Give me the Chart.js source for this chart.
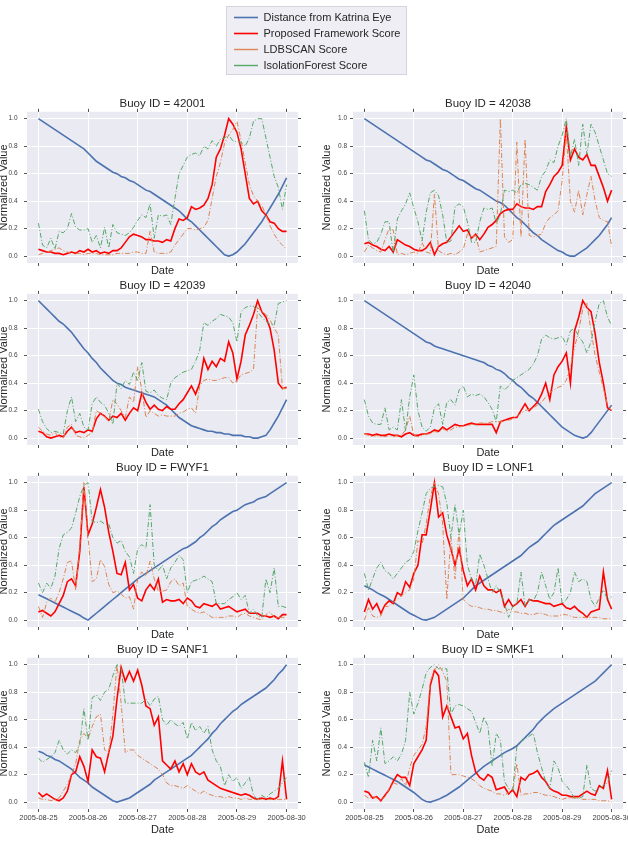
<!DOCTYPE html>
<html>
<head>
<meta charset="utf-8">
<script src="https://cdn.jsdelivr.net/npm/chart.js@4.4.1/dist/chart.umd.min.js"></script>
<style>
  html, body { margin: 0; padding: 0; background: #fff; }
  body { width: 628px; height: 846px; position: relative; overflow: hidden; }
  canvas { position: absolute; }
  #legend-box {
    position: absolute; left: 226px; top: 6px; width: 179px; height: 67px;
    background: #eeeef4; border: 1px solid #d4d4dc; overflow: hidden;
  }
  #legend-box canvas { left: 0; top: 0; }
</style>
</head>
<body>
<div id="legend-box"><canvas id="legend" width="179" height="160"></canvas></div>
<script>
// Hurricane Katrina buoy panels: normalized distance to the eye vs. three
// anomaly scores, one panel per buoy, samples every 2 hours from 08-25 to 08-30.

var DAY_STEP = 2 / 24;
var dateLabels = ["2005-08-25", "2005-08-26", "2005-08-27", "2005-08-28", "2005-08-29", "2005-08-30"];
var dayTicks = [0, 1, 2, 3, 4, 5];
var valueTicks = [0, 0.2, 0.4, 0.6, 0.8, 1.0];
var buoyIds = ["42001", "42038", "42039", "42040", "FWYF1", "LONF1", "SANF1", "SMKF1"];
var seriesNames = ["Distance from Katrina Eye", "Proposed Framework Score", "LDBSCAN Score", "IsolationForest Score"];

// --- 42001
var dist42001 = [1.00,0.98,0.96,0.94,0.92,0.90,0.88,0.86,0.84,0.82,0.80,0.78,0.75,0.72,0.69,0.67,0.65,0.63,0.61,0.60,0.58,0.57,0.55,0.54,0.52,0.50,0.48,0.47,0.45,0.43,0.41,0.39,0.37,0.35,0.33,0.30,0.27,0.25,0.22,0.19,0.16,0.13,0.10,0.07,0.04,0.01,0.00,0.01,0.03,0.06,0.09,0.13,0.17,0.21,0.25,0.30,0.35,0.40,0.45,0.51,0.57];
var prop42001 = [0.05,0.04,0.03,0.03,0.02,0.02,0.01,0.02,0.03,0.02,0.04,0.03,0.05,0.03,0.04,0.02,0.03,0.02,0.04,0.04,0.06,0.10,0.14,0.16,0.15,0.14,0.12,0.12,0.11,0.11,0.10,0.12,0.11,0.20,0.27,0.26,0.28,0.36,0.34,0.35,0.37,0.42,0.52,0.72,0.78,0.88,1.00,0.96,0.90,0.78,0.60,0.42,0.38,0.40,0.33,0.30,0.25,0.24,0.20,0.18,0.18];
var ldb42001 = [0.01,0.02,0.03,0.04,0.05,0.06,0.04,0.03,0.02,0.02,0.02,0.01,0.02,0.02,0.02,0.01,0.01,0.01,0.01,0.02,0.02,0.02,0.02,0.03,0.03,0.02,0.02,0.18,0.03,0.02,0.02,0.02,0.03,0.08,0.12,0.16,0.20,0.20,0.19,0.20,0.21,0.26,0.42,0.58,0.68,0.82,0.88,0.92,0.98,0.84,0.68,0.52,0.44,0.40,0.37,0.30,0.22,0.16,0.11,0.08,0.05];
var iso42001 = [0.24,0.08,0.06,0.13,0.05,0.18,0.17,0.20,0.31,0.21,0.19,0.19,0.20,0.10,0.15,0.06,0.21,0.06,0.23,0.17,0.16,0.15,0.17,0.21,0.26,0.30,0.28,0.38,0.13,0.30,0.29,0.30,0.23,0.42,0.60,0.66,0.72,0.74,0.75,0.73,0.80,0.78,0.84,0.80,0.85,0.86,0.88,0.84,0.83,0.83,0.80,0.86,0.98,1.00,1.00,0.86,0.72,0.58,0.50,0.34,0.52];

// --- 42038
var dist42038 = [1.00,0.98,0.96,0.94,0.92,0.90,0.88,0.86,0.84,0.82,0.80,0.78,0.76,0.74,0.72,0.70,0.69,0.67,0.65,0.63,0.62,0.60,0.58,0.56,0.55,0.53,0.51,0.49,0.48,0.46,0.44,0.42,0.40,0.39,0.37,0.34,0.31,0.28,0.26,0.23,0.20,0.17,0.15,0.12,0.10,0.08,0.06,0.04,0.03,0.01,0.00,0.00,0.02,0.04,0.06,0.09,0.12,0.15,0.19,0.23,0.28];
var prop42038 = [0.09,0.10,0.08,0.07,0.05,0.04,0.07,0.03,0.12,0.10,0.08,0.07,0.05,0.04,0.04,0.06,0.10,0.01,0.07,0.09,0.10,0.14,0.18,0.22,0.18,0.19,0.13,0.16,0.12,0.16,0.21,0.23,0.26,0.31,0.33,0.34,0.34,0.38,0.36,0.35,0.35,0.34,0.36,0.36,0.47,0.52,0.58,0.61,0.66,0.94,0.70,0.78,0.72,0.70,0.74,0.66,0.66,0.58,0.50,0.40,0.48];
var ldb42038 = [0.03,0.08,0.06,0.04,0.03,0.12,0.20,0.19,0.01,0.02,0.01,0.02,0.03,0.02,0.10,0.03,0.02,0.45,0.04,0.02,0.01,0.02,0.01,0.03,0.05,0.16,0.14,0.15,0.03,0.04,0.05,0.06,0.07,1.00,0.14,0.10,0.12,0.83,0.14,0.85,0.15,0.14,0.15,0.16,0.24,0.28,0.30,0.33,0.55,0.90,0.40,0.32,0.48,0.30,0.45,0.58,0.40,0.28,0.26,0.25,0.07];
var iso42038 = [0.33,0.12,0.09,0.10,0.16,0.25,0.25,0.02,0.27,0.33,0.38,0.46,0.35,0.25,0.11,0.32,0.46,0.48,0.44,0.30,0.10,0.11,0.36,0.38,0.36,0.25,0.10,0.10,0.25,0.35,0.34,0.35,0.24,0.30,0.48,0.47,0.48,0.46,0.52,0.53,0.52,0.50,0.48,0.58,0.62,0.70,0.68,0.80,0.88,1.00,0.72,0.85,0.66,0.96,0.74,0.96,0.90,0.80,0.70,0.60,0.58];

// --- 42039
var dist42039 = [1.00,0.97,0.94,0.91,0.88,0.85,0.83,0.80,0.77,0.73,0.69,0.65,0.62,0.58,0.55,0.51,0.48,0.45,0.42,0.40,0.39,0.37,0.36,0.35,0.34,0.33,0.32,0.31,0.30,0.28,0.26,0.24,0.21,0.18,0.15,0.13,0.11,0.09,0.08,0.07,0.06,0.05,0.05,0.04,0.04,0.03,0.03,0.02,0.02,0.02,0.01,0.01,0.00,0.00,0.01,0.02,0.06,0.11,0.16,0.22,0.28];
var prop42039 = [0.05,0.04,0.01,0.00,0.01,0.02,0.01,0.05,0.08,0.04,0.05,0.04,0.06,0.05,0.14,0.18,0.16,0.13,0.16,0.15,0.18,0.13,0.18,0.22,0.20,0.33,0.26,0.21,0.24,0.21,0.20,0.23,0.21,0.21,0.25,0.28,0.33,0.38,0.32,0.40,0.58,0.50,0.56,0.52,0.58,0.56,0.70,0.62,0.43,0.56,0.75,0.82,0.90,1.00,0.92,0.88,0.80,0.64,0.40,0.36,0.37];
var ldb42039 = [0.08,0.05,0.03,0.02,0.04,0.01,0.00,0.08,0.10,0.02,0.01,0.00,0.02,0.04,0.20,0.18,0.16,0.12,0.28,0.25,0.20,0.15,0.30,0.26,0.52,0.35,0.15,0.20,0.18,0.16,0.17,0.16,0.16,0.16,0.18,0.19,0.21,0.22,0.18,0.38,0.42,0.43,0.42,0.42,0.43,0.44,0.44,0.40,0.42,0.46,0.47,0.48,0.50,0.95,0.92,0.90,0.86,0.80,0.75,0.36,0.36];
var iso42039 = [0.21,0.12,0.07,0.04,0.05,0.04,0.03,0.20,0.30,0.12,0.18,0.08,0.06,0.25,0.30,0.26,0.24,0.18,0.10,0.40,0.36,0.42,0.39,0.48,0.42,0.55,0.34,0.33,0.35,0.31,0.29,0.28,0.40,0.44,0.46,0.48,0.49,0.50,0.56,0.64,0.84,0.82,0.85,0.87,0.90,0.89,0.88,0.84,0.70,0.92,0.95,0.96,0.96,0.92,0.88,0.85,0.83,0.82,0.98,0.99,1.00];

// --- 42040
var dist42040 = [1.00,0.98,0.96,0.94,0.92,0.90,0.88,0.86,0.84,0.82,0.80,0.78,0.76,0.74,0.72,0.70,0.69,0.67,0.66,0.65,0.64,0.63,0.62,0.61,0.60,0.59,0.58,0.57,0.56,0.55,0.53,0.52,0.50,0.49,0.47,0.44,0.42,0.39,0.37,0.34,0.31,0.29,0.26,0.23,0.20,0.17,0.14,0.11,0.08,0.06,0.04,0.02,0.01,0.00,0.01,0.04,0.08,0.12,0.16,0.20,0.24];
var prop42040 = [0.03,0.03,0.02,0.03,0.02,0.02,0.03,0.02,0.02,0.01,0.03,0.04,0.02,0.02,0.03,0.03,0.04,0.06,0.05,0.08,0.06,0.08,0.10,0.09,0.09,0.10,0.11,0.10,0.10,0.10,0.10,0.10,0.04,0.12,0.13,0.14,0.15,0.15,0.20,0.25,0.20,0.23,0.26,0.32,0.40,0.28,0.46,0.52,0.56,0.62,0.40,0.78,0.88,1.00,0.95,0.92,0.76,0.55,0.40,0.22,0.20];
var ldb42040 = [0.03,0.02,0.01,0.02,0.01,0.01,0.02,0.01,0.02,0.02,0.06,0.16,0.02,0.01,0.02,0.03,0.03,0.05,0.04,0.07,0.05,0.06,0.08,0.08,0.09,0.09,0.10,0.10,0.11,0.11,0.11,0.12,0.12,0.12,0.13,0.13,0.14,0.16,0.18,0.20,0.21,0.22,0.24,0.26,0.30,0.33,0.35,0.37,0.38,0.42,0.52,0.66,0.78,0.94,0.98,0.78,0.60,0.48,0.36,0.24,0.20];
var iso42040 = [0.28,0.16,0.11,0.10,0.10,0.22,0.06,0.08,0.06,0.28,0.05,0.30,0.46,0.20,0.08,0.05,0.08,0.22,0.25,0.10,0.26,0.28,0.24,0.35,0.38,0.30,0.32,0.31,0.32,0.30,0.26,0.21,0.12,0.38,0.35,0.38,0.42,0.44,0.46,0.48,0.50,0.54,0.60,0.72,0.75,0.73,0.72,0.73,0.74,0.68,0.78,0.80,0.74,0.70,0.62,0.70,0.85,0.98,1.00,0.88,0.82];

// --- FWYF1
var distFWYF1 = [0.185,0.17,0.155,0.14,0.125,0.11,0.095,0.08,0.065,0.05,0.035,0.015,0.00,0.025,0.05,0.075,0.10,0.125,0.15,0.175,0.20,0.225,0.25,0.275,0.30,0.32,0.34,0.36,0.38,0.40,0.42,0.44,0.46,0.48,0.50,0.52,0.53,0.55,0.57,0.60,0.62,0.65,0.68,0.70,0.73,0.75,0.77,0.79,0.80,0.82,0.84,0.85,0.86,0.88,0.89,0.90,0.92,0.94,0.96,0.98,1.00];
var propFWYF1 = [0.06,0.07,0.05,0.03,0.06,0.12,0.18,0.28,0.30,0.25,0.50,0.97,0.62,0.70,0.82,0.95,0.82,0.64,0.50,0.34,0.33,0.42,0.22,0.26,0.16,0.14,0.22,0.26,0.22,0.30,0.13,0.15,0.14,0.14,0.15,0.12,0.16,0.14,0.10,0.09,0.12,0.11,0.10,0.12,0.08,0.09,0.10,0.08,0.06,0.07,0.08,0.05,0.05,0.05,0.03,0.03,0.02,0.03,0.01,0.04,0.04];
var ldbFWYF1 = [0.10,0.02,0.13,0.16,0.13,0.20,0.30,0.42,0.43,0.22,0.55,1.00,0.60,0.28,0.30,0.44,0.39,0.26,0.20,0.21,0.19,0.16,0.17,0.08,0.30,0.35,0.32,0.43,0.30,0.21,0.21,0.22,0.28,0.30,0.25,0.27,0.10,0.08,0.06,0.05,0.06,0.04,0.02,0.02,0.02,0.02,0.03,0.03,0.02,0.04,0.05,0.03,0.02,0.01,0.00,0.04,0.06,0.02,0.02,0.02,0.02];
var isoFWYF1 = [0.27,0.20,0.27,0.23,0.32,0.52,0.62,0.64,0.67,0.78,0.90,0.98,1.00,0.72,0.71,0.72,0.70,0.70,0.60,0.56,0.58,0.50,0.46,0.34,0.52,0.55,0.52,0.84,0.40,0.36,0.40,0.30,0.38,0.42,0.47,0.44,0.20,0.28,0.29,0.30,0.32,0.30,0.28,0.12,0.12,0.12,0.15,0.17,0.20,0.15,0.18,0.05,0.08,0.03,0.02,0.30,0.20,0.38,0.10,0.10,0.09];

// --- LONF1
var distLONF1 = [0.25,0.235,0.22,0.20,0.185,0.17,0.15,0.13,0.11,0.09,0.07,0.05,0.035,0.02,0.005,0.00,0.01,0.02,0.04,0.06,0.08,0.10,0.12,0.14,0.16,0.19,0.22,0.25,0.27,0.29,0.31,0.33,0.35,0.37,0.39,0.41,0.43,0.45,0.47,0.50,0.53,0.55,0.57,0.60,0.63,0.66,0.69,0.71,0.73,0.75,0.77,0.79,0.81,0.83,0.86,0.89,0.92,0.94,0.96,0.98,1.00];
var propLONF1 = [0.06,0.15,0.08,0.12,0.05,0.11,0.14,0.12,0.20,0.18,0.28,0.24,0.34,0.40,0.62,0.62,0.80,1.00,0.75,0.78,0.62,0.52,0.40,0.52,0.36,0.25,0.30,0.22,0.32,0.25,0.22,0.22,0.20,0.22,0.10,0.15,0.10,0.12,0.15,0.10,0.15,0.14,0.14,0.13,0.12,0.12,0.10,0.11,0.12,0.09,0.08,0.10,0.07,0.05,0.02,0.06,0.07,0.08,0.35,0.15,0.08];
var ldbLONF1 = [0.00,0.09,0.03,0.02,0.03,0.10,0.10,0.13,0.15,0.18,0.20,0.22,0.30,0.58,0.55,0.70,0.90,1.00,0.92,0.70,0.15,0.60,0.30,0.66,0.15,0.12,0.10,0.10,0.09,0.08,0.08,0.07,0.07,0.06,0.05,0.08,0.06,0.06,0.05,0.05,0.04,0.04,0.05,0.05,0.04,0.03,0.03,0.03,0.04,0.04,0.03,0.02,0.02,0.02,0.02,0.02,0.02,0.02,0.01,0.01,0.01];
var isoLONF1 = [0.34,0.22,0.30,0.38,0.42,0.36,0.34,0.30,0.34,0.38,0.42,0.44,0.50,0.65,0.78,0.92,0.96,0.97,0.98,0.97,0.85,0.60,0.84,0.62,0.80,0.40,0.30,0.26,0.48,0.40,0.30,0.20,0.25,0.20,0.12,0.02,0.10,0.12,0.35,0.10,0.15,0.14,0.20,0.35,0.25,0.15,0.20,0.38,0.12,0.15,0.20,0.35,0.28,0.30,0.28,0.15,0.10,0.16,0.22,0.15,0.17];

// --- SANF1
var distSANF1 = [0.37,0.36,0.34,0.33,0.31,0.30,0.28,0.26,0.24,0.21,0.18,0.16,0.14,0.11,0.09,0.07,0.05,0.03,0.01,0.00,0.01,0.02,0.03,0.05,0.07,0.09,0.11,0.13,0.16,0.18,0.20,0.22,0.24,0.26,0.28,0.30,0.32,0.34,0.37,0.40,0.43,0.46,0.50,0.53,0.57,0.60,0.63,0.66,0.68,0.71,0.73,0.75,0.77,0.79,0.81,0.83,0.86,0.89,0.93,0.96,1.00];
var propSANF1 = [0.07,0.04,0.06,0.04,0.02,0.01,0.03,0.08,0.20,0.22,0.33,0.26,0.15,0.38,0.33,0.32,0.22,0.36,0.48,0.75,0.98,0.88,0.95,0.88,0.96,0.85,0.70,0.68,0.56,0.62,0.30,0.27,0.24,0.30,0.22,0.28,0.20,0.28,0.22,0.20,0.22,0.16,0.14,0.12,0.10,0.09,0.08,0.07,0.06,0.05,0.06,0.05,0.03,0.02,0.03,0.02,0.03,0.02,0.04,0.30,0.02];
var ldbSANF1 = [0.03,0.02,0.02,0.01,0.02,0.03,0.08,0.13,0.20,0.28,0.45,0.50,0.46,0.55,0.62,0.64,0.38,0.36,0.64,1.00,0.72,0.36,0.38,0.38,0.34,0.32,0.30,0.28,0.26,0.24,0.20,0.14,0.12,0.12,0.11,0.10,0.12,0.10,0.08,0.06,0.08,0.06,0.05,0.04,0.04,0.03,0.04,0.03,0.03,0.02,0.03,0.02,0.02,0.02,0.02,0.02,0.02,0.02,0.02,0.02,0.02];
var isoSANF1 = [0.32,0.29,0.31,0.33,0.36,0.45,0.38,0.35,0.38,0.36,0.42,0.68,0.45,0.76,0.78,0.74,0.80,0.82,0.92,1.00,0.98,0.72,0.72,0.72,0.72,0.72,0.75,0.70,0.75,0.77,0.60,0.56,0.60,0.57,0.55,0.58,0.46,0.58,0.52,0.55,0.50,0.55,0.38,0.30,0.26,0.12,0.20,0.15,0.18,0.10,0.14,0.18,0.05,0.02,0.05,0.03,0.06,0.08,0.10,0.14,0.18];

// --- SMKF1
var distSMKF1 = [0.27,0.255,0.24,0.225,0.21,0.195,0.18,0.165,0.15,0.13,0.11,0.09,0.07,0.045,0.02,0.005,0.00,0.01,0.02,0.035,0.05,0.07,0.09,0.11,0.135,0.16,0.185,0.21,0.235,0.26,0.28,0.30,0.32,0.34,0.36,0.375,0.39,0.41,0.44,0.47,0.50,0.53,0.57,0.60,0.63,0.655,0.68,0.70,0.72,0.74,0.76,0.78,0.80,0.82,0.84,0.86,0.88,0.91,0.94,0.97,1.00];
var propSMKF1 = [0.08,0.07,0.03,0.04,0.01,0.05,0.09,0.15,0.20,0.18,0.18,0.12,0.28,0.33,0.38,0.45,0.85,0.96,0.92,0.62,0.70,0.62,0.54,0.55,0.46,0.50,0.34,0.22,0.18,0.16,0.20,0.18,0.09,0.10,0.11,0.06,0.09,0.04,0.18,0.16,0.20,0.21,0.23,0.18,0.15,0.10,0.08,0.07,0.05,0.05,0.04,0.04,0.04,0.06,0.08,0.06,0.05,0.12,0.10,0.23,0.02];
var ldbSMKF1 = [0.05,0.03,0.04,0.03,0.01,0.04,0.10,0.14,0.13,0.17,0.12,0.25,0.34,0.38,0.42,0.55,0.88,0.96,1.00,0.95,0.88,0.20,0.20,0.20,0.19,0.18,0.17,0.15,0.12,0.10,0.09,0.08,0.06,0.06,0.05,0.07,0.08,0.28,0.05,0.06,0.06,0.07,0.07,0.06,0.05,0.05,0.04,0.03,0.02,0.03,0.03,0.03,0.03,0.02,0.02,0.02,0.02,0.01,0.01,0.01,0.00];
var isoSMKF1 = [0.29,0.18,0.45,0.30,0.54,0.28,0.30,0.33,0.30,0.35,0.45,0.80,0.64,0.72,0.82,0.94,0.98,1.00,0.97,0.97,0.97,0.64,0.70,0.71,0.70,0.68,0.66,0.58,0.50,0.62,0.55,0.26,0.50,0.45,0.15,0.10,0.09,0.40,0.44,0.46,0.48,0.50,0.36,0.25,0.15,0.10,0.30,0.25,0.15,0.12,0.08,0.03,0.03,0.04,0.27,0.10,0.08,0.10,0.12,0.14,0.23];

var panelSeries = {
  "42001": [dist42001, prop42001, ldb42001, iso42001],
  "42038": [dist42038, prop42038, ldb42038, iso42038],
  "42039": [dist42039, prop42039, ldb42039, iso42039],
  "42040": [dist42040, prop42040, ldb42040, iso42040],
  "FWYF1": [distFWYF1, propFWYF1, ldbFWYF1, isoFWYF1],
  "LONF1": [distLONF1, propLONF1, ldbLONF1, isoLONF1],
  "SANF1": [distSANF1, propSANF1, ldbSANF1, isoSANF1],
  "SMKF1": [distSMKF1, propSMKF1, ldbSMKF1, isoSMKF1]
};

(function () {
  "use strict";

  var FONT = '"Liberation Sans", Arial, Helvetica, sans-serif';
  var TEXT = "#262626";
  var TICK_TEXT = "#404040";
  var PLOT_BG = "#eaeaf2";
  var STYLES = [
    { color: "#4c72b0", width: 1.6, legendWidth: 1.6, dash: [] },
    { color: "#ff0000", width: 1.6, legendWidth: 1.6, dash: [] },
    { color: "#dd8452", width: 1, legendWidth: 1.4, dash: [5, 2, 1, 2] },
    { color: "#55a868", width: 1, legendWidth: 1.4, dash: [5, 2, 1, 2] }
  ];
  var X_MIN = -0.23, X_MAX = 5.23, Y_MIN = -0.05, Y_MAX = 1.05;

  // two columns, four rows; sizes chosen so plot areas land where the
  // original subplots sit
  var COLS = [
    { left: 0, width: 310, padL: 0, axisW: 27, padR: 11, labelGap: 6.5 },
    { left: 318, width: 310, padL: 5, axisW: 30, padR: 4, labelGap: 3 }
  ];
  var ROWS = [
    { top: 95, height: 181, xAxisH: 13 },
    { top: 277, height: 181, xAxisH: 13 },
    { top: 459, height: 181, xAxisH: 13 },
    { top: 641, height: 194, xAxisH: 26 }
  ];

  Chart.defaults.font.family = FONT;

  // seaborn-like grey plot face behind the grid
  var plotBgPlugin = {
    id: "plotBg",
    beforeDraw: function (chart) {
      var a = chart.chartArea;
      var c = chart.ctx;
      c.save();
      c.fillStyle = PLOT_BG;
      c.fillRect(a.left, a.top, a.right - a.left, a.bottom - a.top);
      c.restore();
    }
  };

  function makeCanvas(left, top, w, h) {
    var c = document.createElement("canvas");
    c.width = w;
    c.height = h;
    c.style.left = left + "px";
    c.style.top = top + "px";
    document.body.appendChild(c);
    return c;
  }

  function gridOpts(onArea) {
    return {
      display: true, drawOnChartArea: onArea, color: "#ffffff", lineWidth: 1,
      drawTicks: true, tickLength: 3, tickColor: "#555555", tickWidth: 1
    };
  }

  function setDayTicks(scale) {
    scale.ticks = dayTicks.map(function (v) { return { value: v }; });
  }

  function setValueTicks(scale) {
    scale.ticks = valueTicks.map(function (v) { return { value: v }; });
  }

  function buildPanel(idx) {
    var id = buoyIds[idx];
    var col = COLS[idx % 2];
    var rowIdx = Math.floor(idx / 2);
    var row = ROWS[rowIdx];
    var isBottom = rowIdx === ROWS.length - 1;
    var canvas = makeCanvas(col.left, row.top, col.width, row.height);

    var datasets = panelSeries[id].map(function (vals, s) {
      return {
        label: seriesNames[s],
        data: vals.map(function (v, i) { return { x: i * DAY_STEP, y: v }; }),
        borderColor: STYLES[s].color,
        backgroundColor: STYLES[s].color,
        borderWidth: STYLES[s].width,
        borderDash: STYLES[s].dash,
        pointRadius: 0,
        tension: 0,
        fill: false,
        order: 4 - s,
        xAxisID: "x",
        yAxisID: "y"
      };
    });

    new Chart(canvas.getContext("2d"), {
      type: "line",
      data: { datasets: datasets },
      plugins: [plotBgPlugin],
      options: {
        responsive: false,
        animation: false,
        devicePixelRatio: 1,
        layout: { padding: { left: col.padL, right: col.padR, top: 0, bottom: 0 } },
        plugins: {
          legend: { display: false },
          tooltip: { enabled: false },
          title: {
            display: true,
            fullSize: false,
            text: "Buoy ID = " + id,
            color: TEXT,
            font: { size: 11.5, weight: "normal", lineHeight: 1.2 },
            padding: { top: 2, bottom: 0 }
          }
        },
        scales: {
          x: {
            type: "linear", position: "bottom", min: X_MIN, max: X_MAX,
            afterBuildTicks: setDayTicks,
            ticks: {
              display: isBottom, autoSkip: false, maxRotation: 0, minRotation: 0,
              padding: 1, color: TICK_TEXT, font: { size: 7.5 },
              callback: function (v) { return dateLabels[Math.round(v)]; }
            },
            grid: gridOpts(true),
            border: { display: false },
            title: {
              display: true, text: "Date", color: TEXT,
              font: { size: 11, lineHeight: 1 }, padding: { top: 0, bottom: 0 }
            },
            afterFit: function (s) { s.height = row.xAxisH; s.paddingLeft = 0; s.paddingRight = 0; }
          },
          xTop: {
            type: "linear", position: "top", min: X_MIN, max: X_MAX,
            afterBuildTicks: setDayTicks,
            ticks: { display: false },
            grid: gridOpts(false),
            border: { display: false },
            afterFit: function (s) { s.height = 1; s.paddingLeft = 0; s.paddingRight = 0; }
          },
          y: {
            type: "linear", position: "left", min: Y_MIN, max: Y_MAX,
            afterBuildTicks: setValueTicks,
            ticks: {
              padding: col.labelGap, color: TICK_TEXT, font: { size: 6.5 },
              callback: function (v) { return v.toFixed(1); }
            },
            grid: gridOpts(true),
            border: { display: false },
            title: {
              display: true, text: "Normalized Value", color: TEXT,
              font: { size: 11, lineHeight: 0.8 }, padding: { top: 0, bottom: 0 }
            },
            afterFit: function (s) { s.width = col.axisW; s.paddingTop = 0; s.paddingBottom = 0; }
          },
          yRight: {
            type: "linear", position: "right", min: Y_MIN, max: Y_MAX,
            afterBuildTicks: setValueTicks,
            ticks: { display: false },
            grid: gridOpts(false),
            border: { display: false },
            afterFit: function (s) { s.width = 1; s.paddingTop = 0; s.paddingBottom = 0; }
          }
        }
      }
    });
  }

  function buildLegend() {
    var canvas = document.getElementById("legend");
    var datasets = seriesNames.map(function (name, s) {
      return {
        label: name,
        data: [],
        borderColor: STYLES[s].color,
        backgroundColor: STYLES[s].color,
        borderWidth: STYLES[s].legendWidth,
        borderDash: STYLES[s].dash,
        pointStyle: "line",
        pointRadius: 0
      };
    });
    new Chart(canvas.getContext("2d"), {
      type: "line",
      data: { datasets: datasets },
      options: {
        responsive: false,
        animation: false,
        devicePixelRatio: 1,
        layout: { padding: { left: 2, top: 0, right: 0, bottom: 0 } },
        plugins: {
          tooltip: { enabled: false },
          legend: {
            display: true,
            position: "top",
            align: "start",
            labels: {
              usePointStyle: true,
              pointStyle: "line",
              pointStyleWidth: 24,
              boxHeight: 11,
              padding: 5,
              color: TEXT,
              font: { size: 11 }
            }
          }
        },
        scales: { x: { display: false }, y: { display: false } }
      }
    });
  }

  buildLegend();
  for (var i = 0; i < buoyIds.length; i++) buildPanel(i);
})();
</script>
</body>
</html>
